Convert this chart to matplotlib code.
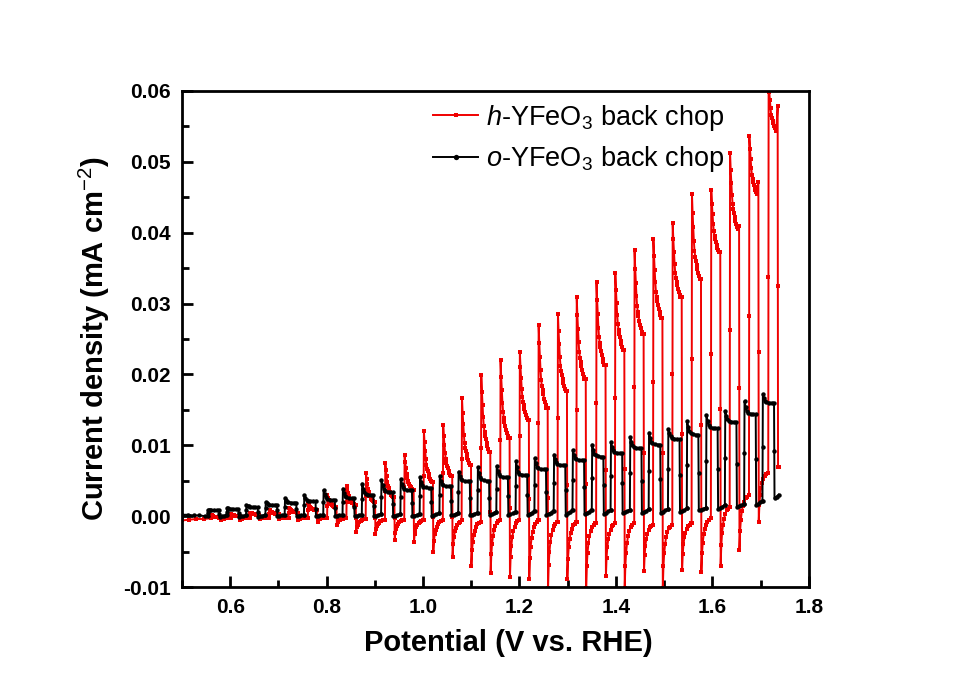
import numpy as np
import matplotlib.pyplot as plt

plt.rcParams['font.family'] = ['Liberation Sans', 'DejaVu Sans']
plt.rcParams['mathtext.fontset'] = 'custom'
plt.rcParams['mathtext.rm'] = 'Liberation Sans'
plt.rcParams['mathtext.it'] = 'Liberation Sans:italic'
plt.rcParams['mathtext.bf'] = 'Liberation Sans:bold'

# ---- data (V vs RHE, mA cm^-2) ----
# h-YFeO3: potential where light switches on, spike top, lowest point of the
# decay, current when light switches off, cathodic spike, current at end of dark
h_on = [0.561, 0.601, 0.641, 0.681, 0.721, 0.761, 0.801, 0.841, 0.881, 0.921,
        0.961, 1.001, 1.041, 1.080, 1.120, 1.160, 1.200, 1.239, 1.279, 1.318,
        1.359, 1.398, 1.438, 1.477, 1.517, 1.557, 1.597, 1.636, 1.676, 1.716]
h_peak = [0.0001, 0.0003, 0.0005, 0.0008, 0.0012, 0.0018, 0.0030, 0.0043, 0.0061, 0.0075,
          0.0087, 0.0120, 0.0129, 0.0167, 0.0199, 0.0221, 0.0232, 0.0270, 0.0285, 0.0309,
          0.0330, 0.0343, 0.0375, 0.0391, 0.0414, 0.0454, 0.0460, 0.0512, 0.0536, 0.0615]
h_trough = [-0.0002, 0.0000, 0.0002, 0.0003, 0.0005, 0.0008, 0.0013, 0.0016, 0.0020, 0.0027,
            0.0037, 0.0048, 0.0056, 0.0072, 0.0091, 0.0110, 0.0136, 0.0153, 0.0176, 0.0193,
            0.0214, 0.0235, 0.0257, 0.0280, 0.0309, 0.0335, 0.0373, 0.0405, 0.0455, 0.0543]
h_plateau = [-0.0002, 0.0000, 0.0002, 0.0003, 0.0005, 0.0008, 0.0013, 0.0016, 0.0020, 0.0027,
             0.0037, 0.0048, 0.0056, 0.0072, 0.0091, 0.0110, 0.0136, 0.0153, 0.0176, 0.0193,
             0.0214, 0.0235, 0.0257, 0.0280, 0.0309, 0.0335, 0.0373, 0.0410, 0.0472, 0.0579]
h_cathodic = [-0.0005, -0.0005, -0.0004, -0.0004, -0.0005, -0.0008, -0.0012, -0.0022, -0.0025, -0.0033,
              -0.0036, -0.0050, -0.0058, -0.0070, -0.0080, -0.0086, -0.0088, -0.0102, -0.0088, -0.0102,
              -0.0085, -0.0102, -0.0078, -0.0102, -0.0076, -0.0079, -0.0070, -0.0048, -0.0008, 0.0070]
h_dark = [-0.0003, -0.0002, -0.0002, -0.0002, -0.0002, -0.0002, -0.0003, -0.0004, -0.0005, -0.0005,
          -0.0006, -0.0006, -0.0006, -0.0008, -0.0005, -0.0005, -0.0006, -0.0008, -0.0008, -0.0010,
          -0.0010, -0.0010, -0.0012, -0.0012, -0.0010, -0.0003, 0.0013, 0.0030, 0.0061, 0.0070]
h_start = -0.0006
h_end = 1.741

# o-YFeO3: light-on potential, step top, plateau, dark level at start / end of dark
o_on = [0.553, 0.593, 0.633, 0.673, 0.713, 0.753, 0.793, 0.833, 0.873, 0.913,
        0.953, 0.993, 1.034, 1.073, 1.113, 1.152, 1.192, 1.231, 1.271, 1.310,
        1.350, 1.389, 1.429, 1.468, 1.508, 1.547, 1.587, 1.626, 1.666, 1.704]
o_peak = [0.0009, 0.0012, 0.0016, 0.0020, 0.0025, 0.0030, 0.0037, 0.0039, 0.0046, 0.0051,
          0.0052, 0.0055, 0.0057, 0.0063, 0.0069, 0.0071, 0.0078, 0.0082, 0.0087, 0.0093,
          0.0101, 0.0105, 0.0112, 0.0118, 0.0123, 0.0134, 0.0143, 0.0148, 0.0162, 0.0172]
o_plateau = [0.0008, 0.0010, 0.0013, 0.0016, 0.0019, 0.0021, 0.0023, 0.0025, 0.0030, 0.0034,
             0.0037, 0.0040, 0.0042, 0.0049, 0.0050, 0.0055, 0.0058, 0.0066, 0.0072, 0.0079,
             0.0084, 0.0089, 0.0096, 0.0101, 0.0109, 0.0115, 0.0124, 0.0133, 0.0144, 0.0160]
o_dark_a = [-0.0001, -0.0001, -0.0001, 0.0000, 0.0000, 0.0000, 0.0000, 0.0000, 0.0000, 0.0000,
            0.0000, 0.0000, 0.0001, 0.0001, 0.0001, 0.0001, 0.0002, 0.0002, 0.0002, 0.0003,
            0.0003, 0.0004, 0.0004, 0.0005, 0.0006, 0.0008, 0.0010, 0.0013, 0.0016, 0.0025]
o_dark_b = [0.0001, 0.0001, 0.0002, 0.0002, 0.0002, 0.0002, 0.0002, 0.0002, 0.0003, 0.0003,
            0.0003, 0.0004, 0.0005, 0.0005, 0.0006, 0.0006, 0.0007, 0.0007, 0.0008, 0.0008,
            0.0009, 0.0009, 0.0010, 0.0010, 0.0011, 0.0012, 0.0016, 0.0017, 0.0022, 0.0034]
o_start = 0.0002
o_end = 1.742

# shape of the transients between the read points
decay_t = [0.0, 0.07, 0.14, 0.21, 0.28, 0.36, 0.43, 0.51, 0.6, 0.68, 0.77, 0.85]
decay_f = [1.0, 0.78, 0.61, 0.45, 0.33, 0.26, 0.21, 0.16, 0.11, 0.07, 0.03, 0.0]
recov_t = [0.0, 0.07, 0.15, 0.25, 0.35, 0.5, 0.65, 0.8, 1.0]
recov_f = [0.0, 0.35, 0.55, 0.7, 0.8, 0.88, 0.94, 0.97, 1.0]


def build_h():
    xs = [0.500, 0.515, 0.530, 0.545]
    ys = [h_start, h_start + 0.0001, h_start + 0.0002, h_start + 0.0002]
    prev = h_start + 0.0003
    light, dark = 0.0195, 0.0205
    for i, e in enumerate(h_on):
        xs += [e, e + 0.0004]
        ys += [prev, (prev + h_peak[i]) / 2]
        for t, f in zip(decay_t, decay_f):
            xs.append(e + 0.0008 + t * (light - 0.0008))
            ys.append(h_trough[i] + (h_peak[i] - h_trough[i]) * f)
        xs.append(e + light)
        ys.append(h_plateau[i])
        off = e + light
        xs.append(off + 0.0004)
        ys.append((h_plateau[i] + h_cathodic[i]) / 2)
        for t, f in zip(recov_t, recov_f):
            xs.append(off + 0.0008 + t * (dark - 0.0012))
            ys.append(h_cathodic[i] + (h_dark[i] - h_cathodic[i]) * f)
        prev = h_dark[i]
    xs, ys = np.array(xs), np.array(ys)
    keep = xs <= h_end
    return xs[keep], ys[keep]


def build_o():
    xs = [0.500, 0.512, 0.524, 0.536, 0.548]
    ys = [o_start, o_start, o_start - 0.0001, o_start - 0.0001, o_start - 0.0002]
    prev = 0.0
    light, dark = 0.024, 0.0155
    for i, e in enumerate(o_on):
        xs += [e, e + 0.0004, e + 0.0008]
        ys += [prev, (prev + o_peak[i]) / 2, o_peak[i]]
        for t, f in zip([0.1, 0.2, 0.3, 0.55, 0.8, 1.0], [0.55, 0.25, 0.1, 0.03, 0.0, 0.0]):
            xs.append(e + 0.0008 + t * (light - 0.0008))
            ys.append(o_plateau[i] + (o_peak[i] - o_plateau[i]) * f)
        off = e + light
        xs += [off + 0.0005, off + 0.001]
        ys += [(o_plateau[i] + o_dark_a[i]) / 2, o_dark_a[i]]
        for t in [0.3, 0.6, 1.0]:
            xs.append(off + 0.001 + t * (dark - 0.0012))
            ys.append(o_dark_a[i] + (o_dark_b[i] - o_dark_a[i]) * t)
        prev = o_dark_b[i]
    xs, ys = np.array(xs), np.array(ys)
    keep = xs <= o_end
    return xs[keep], ys[keep]


hx, hy = build_h()
ox, oy = build_o()

fig = plt.figure(figsize=(9.71, 6.89), dpi=100)
ax = fig.add_axes([0.1874, 0.148, 0.6455, 0.72])

ax.plot(hx, hy, color='#f00000', lw=1.4, marker='s', ms=2.8, mew=0,
        label=r'$\mathit{h}$-YFeO$_3$ back chop')
ax.plot(ox, oy, color='black', lw=1.4, marker='o', ms=3.2, mew=0,
        label=r'$\mathit{o}$-YFeO$_3$ back chop')

ax.set_xlim(0.5, 1.8)
ax.set_ylim(-0.01, 0.06)
ax.set_xticks([0.6, 0.8, 1.0, 1.2, 1.4, 1.6, 1.8])
ax.set_xticks([0.5, 0.7, 0.9, 1.1, 1.3, 1.5, 1.7], minor=True)
ax.set_yticks([-0.01, 0.0, 0.01, 0.02, 0.03, 0.04, 0.05, 0.06])
ax.set_yticks(np.arange(-0.005, 0.06, 0.01), minor=True)
ax.set_xticklabels(['0.6', '0.8', '1.0', '1.2', '1.4', '1.6', '1.8'])
ax.set_yticklabels(['-0.01', '0.00', '0.01', '0.02', '0.03', '0.04', '0.05', '0.06'])
ax.tick_params(which='both', direction='in', width=2, top=False, right=False,
               labelsize=15, pad=8)
ax.tick_params(which='major', length=8)
ax.tick_params(which='minor', length=5)
for lab in ax.get_xticklabels() + ax.get_yticklabels():
    lab.set_fontweight('bold')
for sp in ax.spines.values():
    sp.set_linewidth(2)

ax.set_xlabel('Potential (V vs. RHE)', fontsize=21, fontweight='bold')
ax.xaxis.set_label_coords(0.52, -0.085)
ax.set_ylabel(r'Current density (mA cm$^{-2}$)', fontsize=21, fontweight='bold', labelpad=8)

ax.legend(loc='upper right', bbox_to_anchor=(0.905, 1.025), frameon=False, fontsize=19.5,
          handlelength=1.65, handletextpad=0.3, labelspacing=0.42, markerscale=1.2,
          numpoints=1)

fig.savefig('out.png', dpi=100)
